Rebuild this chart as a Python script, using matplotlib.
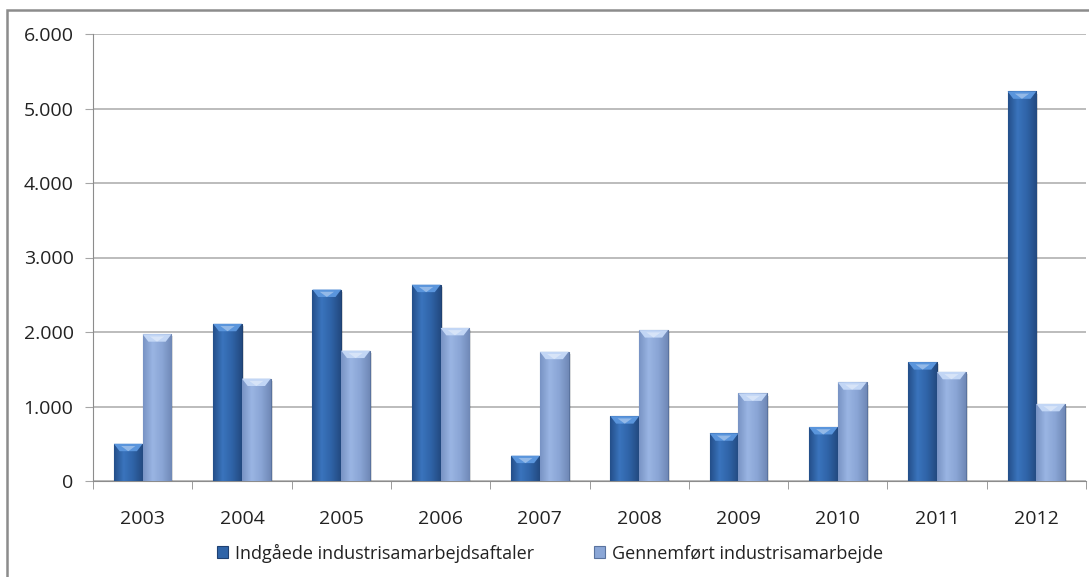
import numpy as np
import matplotlib.pyplot as plt
from matplotlib.ticker import FuncFormatter, FixedLocator
from matplotlib.patches import Rectangle
from matplotlib.colors import LinearSegmentedColormap

years = ['2003', '2004', '2005', '2006', '2007', '2008', '2009', '2010', '2011', '2012']
indgaaede = [500, 2110, 2570, 2635, 340, 870, 640, 725, 1595, 5230]
gennemfoert = [1970, 1375, 1750, 2055, 1735, 2025, 1175, 1325, 1465, 1035]
labels = ['Indgåede industrisamarbejdsaftaler', 'Gennemført industrisamarbejde']

plt.rcParams['font.family'] = ['Open Sans', 'DejaVu Sans']

fig = plt.figure(figsize=(10.89, 5.77), dpi=100)
# outer chart frame
fig.patches.append(Rectangle((7 / 1089, -0.02), 1.1, 1 - 10 / 577 + 0.02, transform=fig.transFigure,
                             fill=False, edgecolor='#8c8c8c', linewidth=1.8))
ax = fig.add_axes([93 / 1089, 1 - 481 / 577, (1086 - 93) / 1089, (481 - 34) / 577])

x = np.arange(len(years))
w = 0.29
b1 = ax.bar(x - w / 2, indgaaede, w, color='#2f64a8', edgecolor='#1f4172', linewidth=0.8, zorder=3)
b2 = ax.bar(x + w / 2, gennemfoert, w, color='#8aa6d6', edgecolor='#5a739f', linewidth=0.8, zorder=3)


def shade(bars, cols, cap_col):
    grad = np.linspace(0, 1, 64).reshape(1, -1)
    cmap = LinearSegmentedColormap.from_list('g', cols)
    for p in bars:
        x0, y0, bw, bh = p.get_x(), p.get_y(), p.get_width(), p.get_height()
        # soft shadow
        ax.add_patch(Rectangle((x0 + 0.02, y0), bw, bh - 30, color='#000000', alpha=0.12, zorder=2, lw=0))
        im = ax.imshow(grad, cmap=cmap, aspect='auto', extent=(x0, x0 + bw, y0, y0 + bh), zorder=4)
        im.set_clip_path(p)
        # bevelled cap
        cap = 100
        ax.fill([x0, x0 + bw, x0 + bw * 0.8, x0 + bw * 0.2], [y0 + bh, y0 + bh, y0 + bh - cap, y0 + bh - cap],
                color=cap_col, zorder=5, lw=0)
        ax.fill([x0 + bw * 0.25, x0 + bw * 0.75, x0 + bw * 0.5], [y0 + bh - cap * 0.3, y0 + bh - cap * 0.3, y0 + bh - cap],
                color='white', alpha=0.35, zorder=5, lw=0)


shade(b1, ['#244f8a', '#3a74bd', '#2f63a7', '#234a80'], '#5a95dc')
shade(b2, ['#7893c4', '#9ab5e3', '#8aa5d5', '#7089b7'], '#c2d6f5')

ax.set_xlim(-0.5, len(years) - 0.5)
ax.set_ylim(0, 6000)
ax.set_yticks(range(0, 6001, 1000))
ax.yaxis.set_major_formatter(FuncFormatter(lambda v, p: f'{int(v):,}'.replace(',', '.')))
ax.set_xticks(x)
ax.set_xticklabels(years)
ax.xaxis.set_minor_locator(FixedLocator(np.arange(-0.5, len(years), 1)))
ax.tick_params(axis='x', which='major', length=0, pad=21, labelsize=14, colors='#222222')
ax.tick_params(axis='x', which='minor', length=6, direction='out', color='#8c8c8c')
ax.tick_params(axis='y', length=6, color='#a6a6a6', pad=8, labelsize=14, labelcolor='#222222')
ax.grid(axis='y', color='#b0b0b0', linewidth=1.2, zorder=0)
for s in ['top', 'right']:
    ax.spines[s].set_visible(False)
ax.spines['left'].set_color('#8c8c8c')
ax.spines['bottom'].set_color('#8c8c8c')

leg = fig.legend([b1, b2], labels, loc='center', bbox_to_anchor=(550 / 1089, 1 - 553 / 577), ncol=2,
                 frameon=False, fontsize=13, handlelength=0.6, handleheight=0.6, handletextpad=0.4,
                 columnspacing=3.3)
for t in leg.get_texts():
    t.set_color('#222222')

fig.savefig('out.png', dpi=100)
